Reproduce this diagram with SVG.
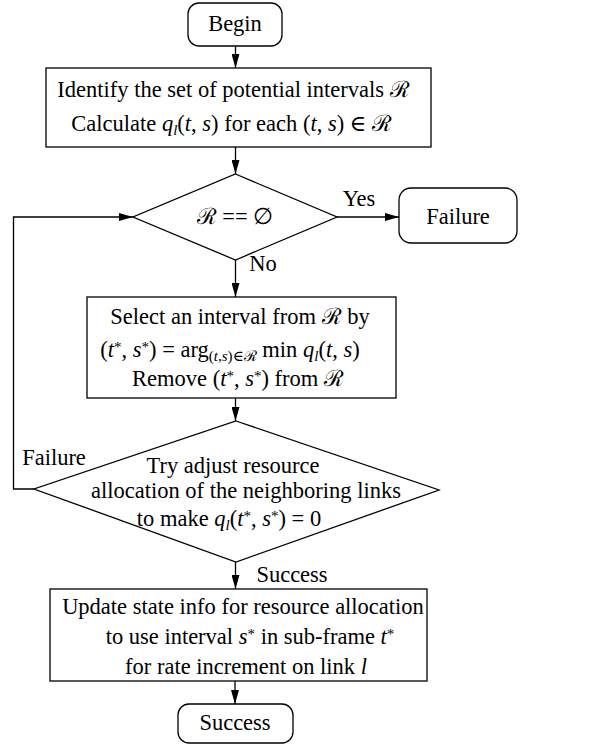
<svg xmlns="http://www.w3.org/2000/svg" width="597" height="748" viewBox="0 0 597 748">
<defs>
<style>
.n{fill:#fff;stroke:#000;stroke-width:1.3}
.c{fill:none;stroke:#000;stroke-width:1.3}
text{font-family:"Liberation Serif","DejaVu Serif",serif;font-size:22.5px;fill:#000;text-anchor:middle}
.i{font-style:italic}
.s{font-size:15px}
</style>
<marker id="a" viewBox="0 0 14 8" refX="14" refY="4" markerWidth="14" markerHeight="8" markerUnits="userSpaceOnUse" orient="auto">
<path d="M0,0L14,4L0,8z" fill="#000"/>
</marker>
</defs>
<g id="connectors">
<line class="c" x1="235.5" y1="46" x2="235.5" y2="68" marker-end="url(#a)"/>
<line class="c" x1="235.5" y1="147" x2="235.5" y2="174" marker-end="url(#a)"/>
<line class="c" x1="337" y1="217" x2="399" y2="217" marker-end="url(#a)"/>
<line class="c" x1="235.5" y1="260" x2="235.5" y2="297" marker-end="url(#a)"/>
<line class="c" x1="235.5" y1="398" x2="235.5" y2="421" marker-end="url(#a)"/>
<polyline class="c" points="34,489 13.5,489 13.5,217 133,217" marker-end="url(#a)"/>
<line class="c" x1="235.5" y1="562" x2="235.5" y2="589" marker-end="url(#a)"/>
<line class="c" x1="235" y1="681" x2="235" y2="704" marker-end="url(#a)"/>
<text x="359" y="206">Yes</text>
<text x="263" y="271">No</text>
<text x="54" y="465">Failure</text>
<text x="292" y="582">Success</text>
</g>
<g id="begin">
<rect class="n" x="188" y="3" width="94" height="43" rx="11"/>
<text x="235" y="31">Begin</text>
</g>
<g id="identify">
<rect class="n" x="46" y="68" width="385" height="79"/>
<text x="233.5" y="97">Identify the set of potential intervals ℛ</text>
<text x="231.7" y="131">Calculate <tspan class="i">q</tspan><tspan class="i s" dy="4">l</tspan><tspan dy="-4">(</tspan><tspan class="i">t</tspan>, <tspan class="i">s</tspan>) for each (<tspan class="i">t</tspan>, <tspan class="i">s</tspan>) ∈ ℛ</text>
</g>
<g id="check-empty">
<polygon class="n" points="235.5,174 337,217 235.5,260 133,217"/>
<text x="235" y="224">ℛ == ∅</text>
</g>
<g id="failure">
<rect class="n" x="399" y="188" width="118" height="55" rx="12"/>
<text x="458" y="224">Failure</text>
</g>
<g id="select">
<rect class="n" x="87" y="297" width="309" height="101"/>
<text x="240" y="324">Select an interval from ℛ by</text>
<text x="230" y="357">(<tspan class="i">t</tspan><tspan class="s" dy="-5">*</tspan><tspan dy="5">, </tspan><tspan class="i">s</tspan><tspan class="s" dy="-5">*</tspan><tspan dy="5">) = arg</tspan><tspan class="s" dy="4">(<tspan class="i">t</tspan>,<tspan class="i">s</tspan>)∈ℛ</tspan><tspan dy="-4"> min </tspan><tspan class="i">q</tspan><tspan class="i s" dy="4">l</tspan><tspan dy="-4">(</tspan><tspan class="i">t</tspan>, <tspan class="i">s</tspan>)</text>
<text x="238" y="386">Remove (<tspan class="i">t</tspan><tspan class="s" dy="-5">*</tspan><tspan dy="5">, </tspan><tspan class="i">s</tspan><tspan class="s" dy="-5">*</tspan><tspan dy="5">) from ℛ</tspan></text>
</g>
<g id="try-adjust">
<polygon class="n" points="236,421 439,490 236,562 34,489"/>
<text x="233" y="473">Try adjust resource</text>
<text x="246" y="498">allocation of the neighboring links</text>
<text x="229" y="526">to make <tspan class="i">q</tspan><tspan class="i s" dy="4">l</tspan><tspan dy="-4">(</tspan><tspan class="i">t</tspan><tspan class="s" dy="-5">*</tspan><tspan dy="5">, </tspan><tspan class="i">s</tspan><tspan class="s" dy="-5">*</tspan><tspan dy="5">) = 0</tspan></text>
</g>
<g id="update">
<rect class="n" x="50" y="589" width="377" height="92"/>
<text x="243" y="614">Update state info for resource allocation</text>
<text x="250" y="644">to use interval <tspan class="i">s</tspan><tspan class="s" dy="-5">*</tspan><tspan dy="5"> in sub-frame </tspan><tspan class="i">t</tspan><tspan class="s" dy="-5">*</tspan></text>
<text x="246" y="674">for rate increment on link <tspan class="i">l</tspan></text>
</g>
<g id="success">
<rect class="n" x="178" y="704" width="115" height="39" rx="11"/>
<text x="235" y="730">Success</text>
</g>
</svg>
